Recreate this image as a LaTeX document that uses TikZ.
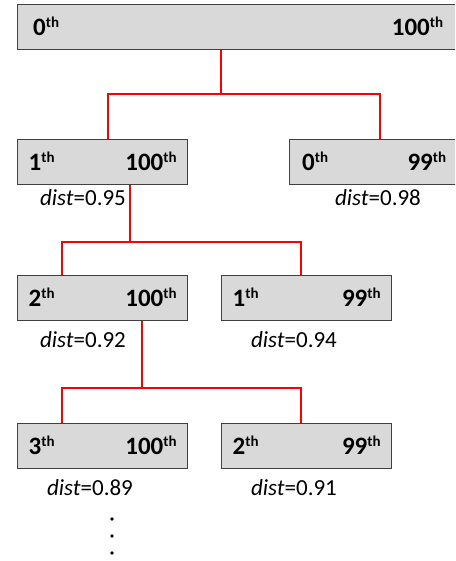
\documentclass[tikz,border=0pt]{standalone}
\usepackage{fontspec}
\setmainfont{Carlito}
\usepackage{tikz}
\usepackage{xcolor}
\usetikzlibrary{positioning}
\definecolor{BoxFill}{HTML}{D9D9D9}
\definecolor{BoxLine}{HTML}{404040}
\definecolor{LinkRed}{HTML}{FF0000}
\newcommand{\rank}[1]{#1\raisebox{8pt}{\fontsize{15}{15}\selectfont th}}

\begin{document}
\begin{tikzpicture}[
  x=1pt,y=-1pt,
  ordbox/.style={draw=BoxLine,fill=BoxFill,line width=1.3pt,anchor=north west,minimum width=170pt,text width=148pt,minimum height=45pt,inner xsep=0pt,inner ysep=0pt,text height=16pt,text depth=0pt,font=\fontsize{25}{29}\selectfont\bfseries},
  distlabel/.style={anchor=base,inner sep=0pt,font=\fontsize{23}{27}\selectfont},
  link/.style={draw=LinkRed,line width=2.2pt}
]
\clip (0,0) rectangle (455,561);
\fill[white] (0,0) rectangle (455,561);
% boxes
\node[ordbox,minimum width=441pt,text width=410pt] (root) at (17,4) {\rank{0}\hfill\rank{100}};
\node[ordbox] (l1a) at (17,139) {\rank{1}\hfill\rank{100}};
\node[ordbox,minimum width=169pt,text width=144pt] (l1b) at (289,139) {\rank{0}\hfill\rank{99}};
\node[ordbox] (l2a) at (17,275) {\rank{2}\hfill\rank{100}};
\node[ordbox] (l2b) at (221,275) {\rank{1}\hfill\rank{99}};
\node[ordbox] (l3a) at (17,423) {\rank{3}\hfill\rank{100}};
\node[ordbox] (l3b) at (221,423) {\rank{2}\hfill\rank{99}};
% distances
\node[distlabel] (d1a) at (83,205) {\textit{dist}=0.95};
\node[distlabel] (d1b) at (378,205) {\textit{dist}=0.98};
\node[distlabel] (d2a) at (83,347) {\textit{dist}=0.92};
\node[distlabel] (d2b) at (294,347) {\textit{dist}=0.94};
\node[distlabel] (d3a) at (90,495) {\textit{dist}=0.89};
\node[distlabel] (d3b) at (294,495) {\textit{dist}=0.91};
% red links
\draw[link] ([xshift=-17.5pt]root.south) -- ++(0,44) -| ([xshift=5pt]l1a.north);
\draw[link] ([xshift=-17.5pt]root.south) -- ++(0,44) -| ([xshift=5.5pt]l1b.north);
\draw[link] ([xshift=27pt]l1a.south) -- ++(0,57) -| ([xshift=-41pt]l2a.north);
\draw[link] ([xshift=27pt]l1a.south) -- ++(0,57) -| ([xshift=-6pt]l2b.north);
\draw[link] ([xshift=39pt]l2a.south) -- ++(0,67) -| ([xshift=-41pt]l3a.north);
\draw[link] ([xshift=39pt]l2a.south) -- ++(0,67) -| ([xshift=-6pt]l3b.north);
% more levels
\foreach \y in {519,536,553}
  \fill (112,\y) circle (1.8pt);
\end{tikzpicture}
\end{document}
